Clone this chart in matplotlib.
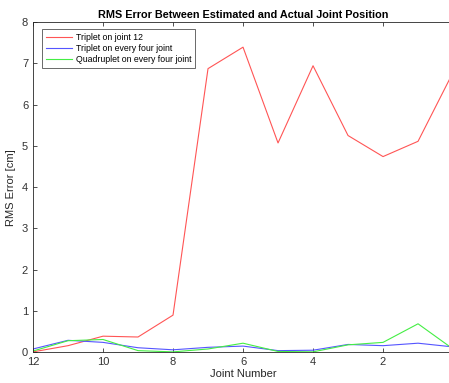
import matplotlib
matplotlib.use('Agg')
from matplotlib import pyplot as plt

plt.rcParams['font.family'] = ['Liberation Sans', 'DejaVu Sans']

joints = [12, 11, 10, 9, 8, 7, 6, 5, 4, 3, 2, 1, 0]
triplet_joint12 = [0.01, 0.16, 0.39, 0.37, 0.90, 6.87, 7.39, 5.07, 6.94, 5.25, 4.74, 5.11, 6.78]
triplet_every_four = [0.08, 0.29, 0.24, 0.11, 0.06, 0.12, 0.15, 0.04, 0.05, 0.19, 0.16, 0.22, 0.13]
quadruplet_every_four = [0.03, 0.28, 0.31, 0.04, 0.01, 0.08, 0.22, 0.02, 0.01, 0.18, 0.24, 0.69, 0.08]

x_ticks = [12, 10, 8, 6, 4, 2]
y_ticks = [0, 1, 2, 3, 4, 5, 6, 7, 8]

fig = plt.figure(figsize=(4.49, 3.83), dpi=100)
ax = fig.add_axes([0.0735, 0.0802, 0.9355, 0.8624])

ax.plot(joints, triplet_joint12, color='#ff5555', lw=0.8, label='Triplet on joint 12')
ax.plot(joints, triplet_every_four, color='#5555ff', lw=0.8, label='Triplet on every four joint')
ax.plot(joints, quadruplet_every_four, color='#44ee44', lw=0.8, label='Quadruplet on every four joint')

ax.set_xlim(12, 0)
ax.set_ylim(0, 8)
ax.set_xticks(x_ticks)
ax.set_yticks(y_ticks)
ax.tick_params(direction='in', length=3, width=0.6, labelsize=8, colors='#333333',
               top=True, right=True)
for spine in ax.spines.values():
    spine.set_linewidth(0.6)
    spine.set_color('#262626')

ax.set_title('RMS Error Between Estimated and Actual Joint Position',
             fontsize=7.8, fontweight='bold', pad=3)
ax.set_xlabel('Joint Number', fontsize=8, color='#262626', labelpad=1)
ax.set_ylabel('RMS Error [cm]', fontsize=8, color='#262626', labelpad=4)

leg = ax.legend(loc='upper left', fontsize=6.3, handlelength=3.0, borderpad=0.4,
                labelspacing=0.25, handletextpad=0.45, fancybox=False,
                bbox_to_anchor=(0.022, 0.978), borderaxespad=0)
leg.get_frame().set_edgecolor('#262626')
leg.get_frame().set_linewidth(0.6)

fig.savefig('out.png', dpi=100)
